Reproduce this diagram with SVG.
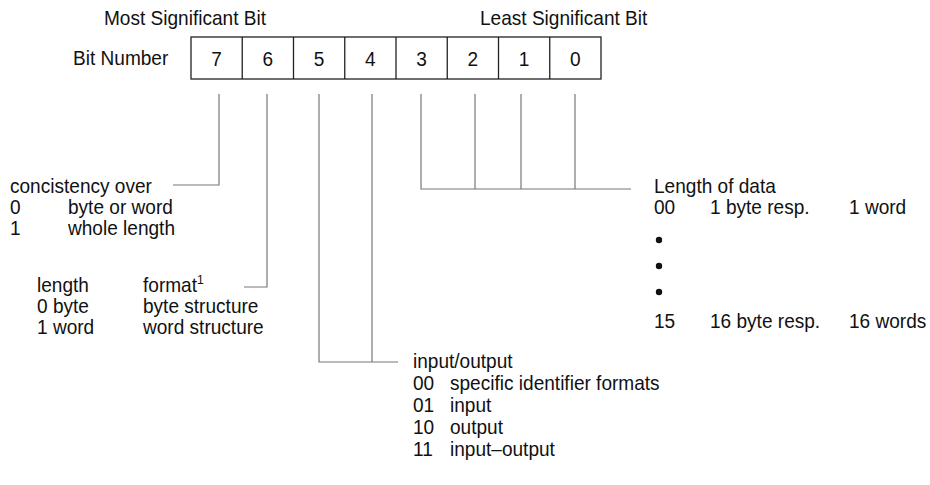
<svg xmlns="http://www.w3.org/2000/svg" width="930" height="485" viewBox="0 0 930 485">
<style>
text{font-family:"Liberation Sans",Arial,sans-serif;font-size:20.5px;fill:#111}
.box{fill:#fff;stroke:#222;stroke-width:1.3}
.cell{stroke:#222;stroke-width:1.3}
.ld{fill:none;stroke:#777;stroke-width:1.2}
.mid{text-anchor:middle}
</style>
<rect width="930" height="485" fill="#fff"/>
<g id="header">
<text transform="translate(104,25) scale(0.93,1)">Most Significant Bit</text>
<text transform="translate(480,25) scale(0.93,1)">Least Significant Bit</text>
<text transform="translate(73,65) scale(0.93,1)">Bit Number</text>
</g>
<g id="register">
<rect class="box" x="191" y="37" width="410" height="42"/>
<line class="cell" x1="242.25" y1="37" x2="242.25" y2="79"/>
<line class="cell" x1="293.5" y1="37" x2="293.5" y2="79"/>
<line class="cell" x1="344.75" y1="37" x2="344.75" y2="79"/>
<line class="cell" x1="396" y1="37" x2="396" y2="79"/>
<line class="cell" x1="447.25" y1="37" x2="447.25" y2="79"/>
<line class="cell" x1="498.5" y1="37" x2="498.5" y2="79"/>
<line class="cell" x1="549.75" y1="37" x2="549.75" y2="79"/>
<text class="mid" transform="translate(216.6,66) scale(0.93,1)">7</text>
<text class="mid" transform="translate(267.9,66) scale(0.93,1)">6</text>
<text class="mid" transform="translate(319.1,66) scale(0.93,1)">5</text>
<text class="mid" transform="translate(370.4,66) scale(0.93,1)">4</text>
<text class="mid" transform="translate(421.6,66) scale(0.93,1)">3</text>
<text class="mid" transform="translate(472.9,66) scale(0.93,1)">2</text>
<text class="mid" transform="translate(524.1,66) scale(0.93,1)">1</text>
<text class="mid" transform="translate(575.4,66) scale(0.93,1)">0</text>
</g>
<g id="connectors">
<polyline class="ld" points="219,94 219,185 173,185"/>
<polyline class="ld" points="267,94 267,287 244,287"/>
<polyline class="ld" points="319,94 319,362 398,362"/>
<line class="ld" x1="372" y1="94" x2="372" y2="362"/>
<polyline class="ld" points="421,94 421,189 631,189"/>
<line class="ld" x1="475" y1="94" x2="475" y2="189"/>
<line class="ld" x1="521" y1="94" x2="521" y2="189"/>
<line class="ld" x1="575" y1="94" x2="575" y2="189"/>
</g>
<g id="bit7">
<text transform="translate(10,193) scale(0.93,1)">concistency over</text>
<text transform="translate(10,214) scale(0.93,1)">0</text><text transform="translate(68,214) scale(0.93,1)">byte or word</text>
<text transform="translate(10,235) scale(0.93,1)">1</text><text transform="translate(68,235) scale(0.93,1)">whole length</text>
</g>
<g id="bit6">
<text transform="translate(37,292) scale(0.93,1)">length</text><text transform="translate(143,292) scale(0.93,1)">format<tspan font-size="13" dy="-8">1</tspan></text>
<text transform="translate(37,313) scale(0.93,1)">0 byte</text><text transform="translate(143,313) scale(0.93,1)">byte structure</text>
<text transform="translate(37,334) scale(0.93,1)">1 word</text><text transform="translate(143,334) scale(0.93,1)">word structure</text>
</g>
<g id="bits54">
<text transform="translate(413,368) scale(0.93,1)">input/output</text>
<text transform="translate(413,390) scale(0.93,1)">00</text><text transform="translate(450,390) scale(0.93,1)">specific identifier formats</text>
<text transform="translate(413,412) scale(0.93,1)">01</text><text transform="translate(450,412) scale(0.93,1)">input</text>
<text transform="translate(413,434) scale(0.93,1)">10</text><text transform="translate(450,434) scale(0.93,1)">output</text>
<text transform="translate(413,456) scale(0.93,1)">11</text><text transform="translate(450,456) scale(0.93,1)">input–output</text>
</g>
<g id="bits30">
<text transform="translate(654,193) scale(0.93,1)">Length of data</text>
<text transform="translate(654,214) scale(0.93,1)">00</text><text transform="translate(710,214) scale(0.93,1)">1 byte resp.</text><text transform="translate(849,214) scale(0.93,1)">1 word</text>
<circle cx="659" cy="240" r="3.2" fill="#111"/>
<circle cx="659" cy="266" r="3.2" fill="#111"/>
<circle cx="659" cy="292" r="3.2" fill="#111"/>
<text transform="translate(654,328) scale(0.93,1)">15</text><text transform="translate(710,328) scale(0.93,1)">16 byte resp.</text><text transform="translate(849,328) scale(0.93,1)">16 words</text>
</g>
</svg>
